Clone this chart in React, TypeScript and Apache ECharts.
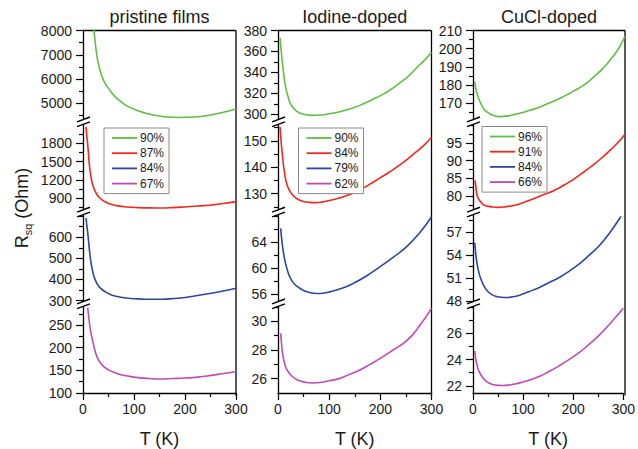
import React, { useEffect, useRef } from 'react';
import * as echarts from 'echarts';

// ---------- DATA ----------
const columnTitles = ['pristine films', 'Iodine-doped', 'CuCl-doped'];
const pristineLabels = ['90%', '87%', '84%', '67%'];
const iodineLabels = ['90%', '84%', '79%', '62%'];
const cuclLabels = ['96%', '91%', '84%', '66%'];

const xTicks = { min: 0, max: 300, interval: 100 };

// pristine films
const pristine90 = [[16, 9400], [20, 8300], [22, 7900], [26, 7150], [30, 6650], [35, 6250], [42, 5880], [50, 5620], [62, 5300], [75, 5060], [88, 4880], [105, 4720], [121, 4610], [140, 4515], [160, 4455], [186, 4420], [219, 4440], [252, 4535], [275, 4640], [300, 4775]];
const pristine87 = [[6, 2070], [7.5, 1920], [9.3, 1772], [11, 1600], [12.5, 1445], [15, 1290], [17, 1190], [21, 1070], [25.7, 985], [32, 912], [42, 846], [55, 800], [68, 774], [85, 757], [108, 746], [130, 741], [153, 740], [175, 745], [200, 757], [225, 772], [252, 790], [275, 812], [300, 844]];
const pristine84 = [[6, 690], [7.5, 655], [9.3, 620], [11, 580], [12.6, 540], [15.5, 482], [19, 438], [23, 404], [29, 374], [35, 357], [42, 344], [55, 328], [68, 319], [85, 312], [108, 308], [130, 306], [147, 306], [170, 308], [186, 311], [210, 318], [239, 330], [270, 343], [300, 358]];
const pristine67 = [[9.3, 288], [11, 270], [13, 252], [15.5, 234], [18, 220], [21, 205], [25, 188], [29, 176], [35, 165], [42, 157], [50, 151], [60, 146], [72, 141], [85, 138], [108, 134], [130, 132], [153, 131], [175, 132], [200, 133], [225, 135], [252, 139], [275, 143], [300, 147]];

// iodine-doped
const iodine90 = [[4, 373], [6, 362], [8, 352], [10, 343], [12.5, 333], [15, 326], [19.6, 317], [25.5, 309], [36, 303], [50, 300], [65, 299], [82, 299.3], [100, 300.5], [121, 302.5], [140, 305], [160, 308.5], [180, 313], [205, 319], [220, 323.5], [237.5, 329.7], [255, 336.5], [270, 344], [285, 351], [300, 359]];
const iodine84 = [[4, 155.3], [6, 150], [8, 145.8], [10, 142], [12.5, 138.3], [16, 134.5], [22, 131.3], [30, 129.2], [38.5, 127.9], [50, 127], [61.4, 126.7], [75, 126.6], [87.5, 126.9], [103, 127.5], [120, 128.4], [140, 129.7], [159, 131.3], [178, 133.4], [198, 135.8], [218, 138.2], [237.5, 140.8], [255, 143.4], [270, 145.8], [285, 148.3], [300, 151.3]];
const iodine79 = [[5.3, 66.15], [7.5, 64.3], [10, 62.8], [13, 61.4], [16.4, 60.25], [22, 58.9], [29, 57.9], [38, 57.2], [49, 56.66], [62, 56.3], [75, 56.15], [88, 56.2], [101, 56.4], [125, 56.95], [147, 57.7], [172, 58.8], [199, 60.25], [225, 61.7], [251, 63.3], [275, 65.3], [300, 67.9]];
const iodine62 = [[5.3, 29.16], [7, 28.4], [8.5, 27.84], [12, 27.2], [16.4, 26.7], [24, 26.3], [32.7, 26.02], [44, 25.83], [55.5, 25.73], [68, 25.7], [81.6, 25.73], [100, 25.85], [120.7, 26.02], [140, 26.3], [160, 26.6], [180, 27.0], [199, 27.4], [225, 28.0], [251, 28.63], [275, 29.6], [300, 30.9]];

// CuCl-doped
const cucl96 = [[3.4, 181.9], [6, 177.5], [10, 173.6], [16, 169.5], [23, 166.3], [30, 164.8], [39.5, 163.4], [53, 162.6], [70, 163], [92, 164.5], [108, 165.7], [125, 167.2], [141, 169], [158, 170.9], [175, 173.1], [191, 175.5], [208, 178.1], [224, 181], [240, 184.9], [257, 189.3], [270, 193.5], [283.5, 198.4], [292, 202.3], [300, 207]];
const cucl91 = [[4, 84.4], [6, 82.2], [8, 80.2], [12, 79], [16, 78.2], [22.5, 77.4], [35, 77], [49, 76.8], [65, 77], [82, 77.4], [100, 78.2], [121, 79.3], [140, 80.4], [161, 81.6], [180, 83.1], [200.5, 84.9], [220, 86.9], [240, 89.05], [257, 91.1], [273, 93.2], [287, 95.2], [300, 97.4]];
const cucl84 = [[3.4, 55.6], [5.5, 54.1], [8, 52.9], [12, 51.6], [16.6, 50.7], [22, 49.9], [29.7, 49.2], [38, 48.8], [46, 48.6], [56, 48.48], [66, 48.45], [78, 48.55], [92, 48.75], [110, 49.2], [132, 49.8], [150, 50.4], [171, 51.1], [190, 51.9], [211, 52.9], [230, 54], [250.5, 55.3], [270, 56.9], [292, 59.0]];
const cucl66 = [[3.4, 24.66], [5.5, 24.05], [8, 23.6], [12, 23.1], [20, 22.6], [28, 22.3], [39.5, 22.1], [50, 22.03], [59, 22.02], [75, 22.08], [92, 22.2], [110, 22.4], [132, 22.7], [150, 23.05], [171, 23.5], [190, 23.95], [211, 24.5], [230, 25.1], [250.5, 25.8], [275, 26.8], [300, 27.9]];

// axis ranges (per broken segment, top to bottom)
const pristineRanges = [[4360, 8000], [715, 2100], [298, 705], [100, 290]];
const iodineRanges = [[295.5, 380], [124, 156], [55, 68.2], [25, 31]];
const cuclRanges = [[161.3, 210], [76.2, 100], [48, 59.2], [21.45, 28]];

// tick labels
const pristineMajor = [[5000, 6000, 7000, 8000], [900, 1200, 1500, 1800], [300, 400, 500, 600], [100, 150, 200, 250]];
const pristineMinor = [[4500, 5500, 6500, 7500], [750, 1050, 1350, 1650, 1950], [350, 450, 550, 650, 700], [125, 175, 225, 275]];
const iodineMajor = [[300, 320, 340, 360, 380], [130, 140, 150], [56, 60, 64], [26, 28, 30]];
const iodineMinor = [[310, 330, 350, 370], [125, 135, 145, 155], [58, 62, 66, 68], [27, 29, 31]];
const cuclMajor = [[170, 180, 190, 200, 210], [80, 85, 90, 95], [48, 51, 54, 57], [22, 24, 26]];
const cuclMinor = [[165, 175, 185, 195, 205], [77.5, 82.5, 87.5, 92.5, 97.5, 100], [49.5, 52.5, 55.5, 58.5], [23, 25, 27, 28]];

// ---------- STYLE / LAYOUT ----------
const FONT = 'Liberation Sans, Arial, Helvetica, sans-serif';
const TEXT = '#1a1a1a';
const COLORS = ['#63bd45', '#f0281e', '#2f45a3', '#bd4cb4'];
const COLS = [[83, 236], [278, 431.5], [473, 625]];
const ROWS = [[30.5, 119], [125, 209.5], [215, 301], [307, 395.5]];
const LEGEND_POS = [[104, 128], [298.5, 128], [482, 126.5]];

const columns = [
  { series: [pristine90, pristine87, pristine84, pristine67], labels: pristineLabels, ranges: pristineRanges, major: pristineMajor, minor: pristineMinor },
  { series: [iodine90, iodine84, iodine79, iodine62], labels: iodineLabels, ranges: iodineRanges, major: iodineMajor, minor: iodineMinor },
  { series: [cucl96, cucl91, cucl84, cucl66], labels: cuclLabels, ranges: cuclRanges, major: cuclMajor, minor: cuclMinor },
];

function buildOption() {
  const grid: any[] = [];
  const xAxis: any[] = [];
  const yAxis: any[] = [];
  const series: any[] = [];
  const legend: any[] = [];
  const graphic: any[] = [];
  const axisLineStyle = { color: '#000', width: 1.3 };
  const plain = (v: number) => String(v);

  columns.forEach((col, c) => {
    const [xl, xr] = COLS[c];
    const names: string[] = [];
    for (let r = 0; r < 4; r++) {
      const i = c * 4 + r;
      const [yt, yb] = ROWS[r];
      const bottom = r === 3;
      grid.push({ left: xl, top: yt, width: xr - xl, height: yb - yt });
      xAxis.push({
        type: 'value', gridIndex: i, min: xTicks.min, max: xTicks.max, interval: xTicks.interval,
        axisLine: { show: bottom, onZero: false, lineStyle: axisLineStyle },
        axisTick: { show: bottom, length: 7, lineStyle: { color: '#000', width: 1.2 } },
        minorTick: { show: bottom, splitNumber: 2, length: 4, lineStyle: { color: '#000', width: 1.2 } },
        axisLabel: { show: bottom, fontSize: 14, color: TEXT, margin: 9, fontFamily: FONT, formatter: plain },
        splitLine: { show: false }, minorSplitLine: { show: false },
        name: bottom ? 'T (K)' : '', nameLocation: 'middle', nameGap: 37,
        nameTextStyle: { fontSize: 18, color: TEXT, fontFamily: FONT },
      });
      const [mn, mx] = col.ranges[r];
      yAxis.push({
        type: 'value', gridIndex: i, min: mn, max: mx, position: 'left',
        axisLine: { show: true, onZero: false, lineStyle: axisLineStyle },
        axisTick: { show: true, length: 7, customValues: col.major[r], lineStyle: { color: '#000', width: 1.2 } },
        axisLabel: { show: true, customValues: col.major[r], fontSize: 14, color: TEXT, margin: 11, fontFamily: FONT, formatter: plain },
        splitLine: { show: false },
      });
      yAxis.push({
        type: 'value', gridIndex: i, min: mn, max: mx, position: 'left',
        axisLine: { show: false },
        axisTick: { show: true, length: 4, customValues: col.minor[r], lineStyle: { color: '#000', width: 1.2 } },
        axisLabel: { show: false },
        splitLine: { show: false },
      });
      const name = `${columnTitles[c]}|${col.labels[r]}`;
      names.push(name);
      series.push({
        type: 'line', name, xAxisIndex: i, yAxisIndex: 2 * i,
        data: col.series[r], smooth: 0.5, symbol: 'none', showSymbol: false, clip: true,
        lineStyle: { color: COLORS[r], width: 1.6 }, itemStyle: { color: COLORS[r] },
      });
    }
    legend.push({
      data: names, orient: 'vertical', left: LEGEND_POS[c][0], top: LEGEND_POS[c][1],
      formatter: (n: string) => n.split('|')[1],
      icon: 'rect', itemWidth: 25, itemHeight: 1.8, itemGap: 3.2, padding: [4, 5, 4, 8],
      borderColor: '#8a8a8a', borderWidth: 1, backgroundColor: '#fff',
      selectedMode: false,
      textStyle: { fontSize: 12, lineHeight: 11, color: TEXT, fontFamily: FONT, padding: [0, 0, 0, -2] },
    });

    // column title
    graphic.push({
      type: 'text', x: (xl + xr) / 2, y: 17,
      style: { text: columnTitles[c], fontSize: 18, fontFamily: FONT, fill: TEXT, align: 'center', verticalAlign: 'middle' },
    });
    // top and right borders
    graphic.push({ type: 'line', shape: { x1: xl, y1: ROWS[0][0], x2: xr, y2: ROWS[0][0] }, style: { stroke: '#000', lineWidth: 1.3 } });
    graphic.push({ type: 'line', shape: { x1: xr, y1: ROWS[0][0], x2: xr, y2: ROWS[3][1] }, style: { stroke: '#000', lineWidth: 1.3 } });
    // axis break marks
    for (let r = 0; r < 3; r++) {
      const gy = (ROWS[r][1] + ROWS[r + 1][0]) / 2;
      graphic.push({ type: 'line', shape: { x1: xl - 6, y1: gy - 0.2, x2: xl + 7, y2: gy - 5 }, style: { stroke: '#000', lineWidth: 1.4 } });
      graphic.push({ type: 'line', shape: { x1: xl - 6, y1: gy + 4.6, x2: xl + 7, y2: gy - 0.2 }, style: { stroke: '#000', lineWidth: 1.4 } });
    }
  });

  // y axis title
  graphic.push({
    type: 'text', x: 22, y: 208, rotation: Math.PI / 2,
    style: {
      text: '{a|R}{b|sq}{a| (Ohm)}',
      align: 'center', verticalAlign: 'middle', fill: TEXT,
      rich: {
        a: { fontSize: 18, fontFamily: FONT, fill: TEXT, lineHeight: 22 },
        b: { fontSize: 11, fontFamily: FONT, fill: TEXT, lineHeight: 12, verticalAlign: 'bottom' },
      },
    },
  });

  return { animation: false, backgroundColor: '#fff', grid, xAxis, yAxis, series, legend, graphic };
}

export default function App() {
  const ref = useRef<HTMLDivElement>(null);
  useEffect(() => {
    if (!ref.current) return;
    const chart = echarts.init(ref.current, undefined, { renderer: 'svg' });
    chart.setOption(buildOption() as any);
    return () => chart.dispose();
  }, []);
  return <div ref={ref} style={{ position: 'absolute', left: 0, top: 0, width: 638, height: 449 }} />;
}
